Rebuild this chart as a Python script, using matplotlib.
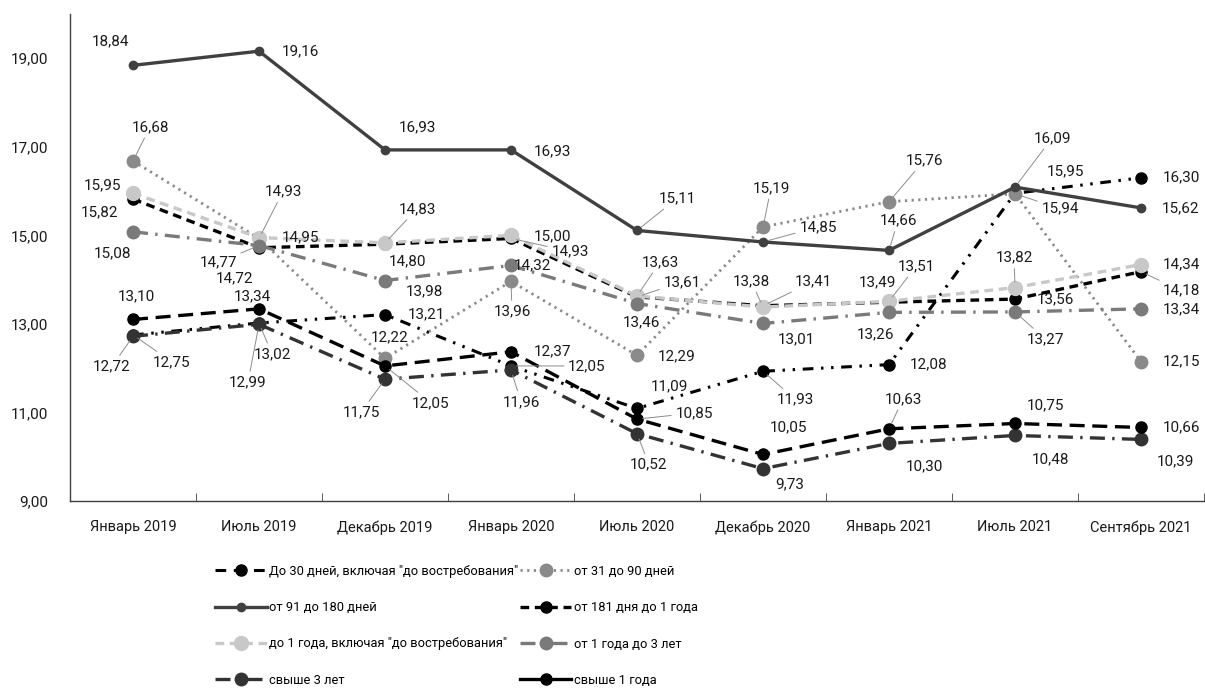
import matplotlib.pyplot as plt
from matplotlib.lines import Line2D

plt.rcParams['font.family'] = ['Roboto', 'DejaVu Sans']

months = ['Январь 2019', 'Июль 2019', 'Декабрь 2019', 'Январь 2020', 'Июль 2020',
          'Декабрь 2020', 'Январь 2021', 'Июль 2021', 'Сентябрь 2021']

names = ['До 30 дней, включая "до востребования"', 'от 31 до 90 дней',
         'от 91 до 180 дней', 'от 181 дня до 1 года',
         'до 1 года, включая "до востребования"', 'от 1 года до 3 лет',
         'свыше 3 лет', 'свыше 1 года']

upto30 = [12.75, 13.02, 13.21, 12.05, 11.09, 11.93, 12.08, 15.95, 16.30]
d31_90 = [16.68, 14.93, 12.22, 13.96, 12.29, 15.19, 15.76, 15.94, 12.15]
d91_180 = [18.84, 19.16, 16.93, 16.93, 15.11, 14.85, 14.66, 16.09, 15.62]
d181_1y = [15.82, 14.72, 14.80, 14.93, 13.61, 13.41, 13.49, 13.56, 14.18]
upto1y = [15.95, 14.95, 14.83, 15.00, 13.63, 13.38, 13.51, 13.82, 14.34]
y1_3 = [15.08, 14.77, 13.98, 14.32, 13.46, 13.01, 13.26, 13.27, 13.34]
over3y = [12.72, 12.99, 11.75, 11.96, 10.52, 9.73, 10.30, 10.48, 10.39]
over1y = [13.10, 13.34, 12.05, 12.37, 10.85, 10.05, 10.63, 10.75, 10.66]

series = [upto30, d31_90, d91_180, d181_1y, upto1y, y1_3, over3y, over1y]

# line style per series: color, linewidth, dash pattern, marker size
styles = [
    dict(color='#000000', lw=2.2, ls=(0, (3.5, 2.5, 0.8, 2.5, 0.8, 2.5)), ms=8),
    dict(color='#8a8a8a', lw=2.0, ls=(0, (0.8, 1.6)), ms=9),
    dict(color='#404040', lw=2.4, ls='-', ms=6),
    dict(color='#000000', lw=2.4, ls=(0, (2.6, 1.7)), ms=8),
    dict(color='#c8c8c8', lw=2.4, ls=(0, (2.6, 1.7)), ms=10),
    dict(color='#7a7a7a', lw=2.4, ls=(0, (4.5, 2.2, 0.7, 2.2)), ms=9),
    dict(color='#333333', lw=2.4, ls=(0, (4.5, 2.2, 0.7, 2.2)), ms=9),
    dict(color='#000000', lw=2.4, ls=(0, (4.5, 2.3)), ms=8),
]
# styles shown in the legend (свыше 1 года is solid there)
legend_ls = [s['ls'] for s in styles]
legend_ls[7] = '-'

# label offsets in pixels (dx, dy); leaders maps series -> points with a leader line
label_pos = [
    [(39, -27), (13, -31), (41, 0), (76, 0), (32, 22), (32, -28), (40, 0), (50, 22), (40, 0)],
    [(17, 34), (24, 47), (5, 21), (1, -30), (40, -1), (8, 39), (35, 41), (45, -15), (40, 0)],
    [(-23, 24), (41, 0), (32, 23), (41, -1), (40, 32), (55, 15), (9, 30), (37, 49), (40, 0)],
    [(-33, -13), (-24, -31), (22, -17), (59, -13), (45, 15), (50, 24), (-12, 20), (40, 0), (40, -19)],
    [(-31, 8), (41, 0), (32, 34), (41, -1), (23, 34), (-12, 26), (27, 35), (-1, 30), (40, 0)],
    [(-21, -21), (-41, -17), (39, -11), (21, 0), (4, -19), (33, -16), (-14, -22), (30, -27), (40, 0)],
    [(-21, -30), (-11, -58), (-24, -33), (10, -32), (12, -31), (27, -16), (35, -23), (35, -24), (34, -22)],
    [(3, 23), (-7, 13), (46, -37), (41, 0), (57, 6), (25, 27), (14, 30), (30, 18), (40, 0)],
]
leaders = {
    0: [0, 1, 3, 5],
    1: [0, 1, 3, 5, 6, 7],
    2: [4, 5, 6, 7],
    3: [3, 4, 5, 8],
    4: [2, 4, 5, 6, 7],
    5: [1, 7],
    6: [0, 1, 2, 3, 4],
    7: [2, 4, 6],
}

fig = plt.figure(figsize=(12.05, 6.89), dpi=100)
ax = fig.add_axes([0.0581, 0.2729, 0.9411, 0.7068])

x = list(range(len(months)))
for k, vals in enumerate(series):
    st = styles[k]
    ax.plot(x, vals, color=st['color'], lw=st['lw'], linestyle=st['ls'],
            marker='o', ms=st['ms'], mfc=st['color'], mec=st['color'],
            zorder=2 + k * 0.1)

for k, vals in enumerate(series):
    for i, v in enumerate(vals):
        dx, dy = label_pos[k][i]
        txt = '{:.2f}'.format(v).replace('.', ',')
        kw = {}
        if i in leaders[k]:
            kw['arrowprops'] = dict(arrowstyle='-', color='#8c8c8c', lw=0.7,
                                    shrinkA=1, shrinkB=4)
        ax.annotate(txt, xy=(i, v), xytext=(dx, dy), textcoords='offset pixels',
                    ha='center', va='center', fontsize=11, color='#1a1a1a',
                    zorder=10, **kw)

ax.set_xlim(-0.5, len(months) - 0.5)
ax.set_ylim(9, 20)
yt = [9, 11, 13, 15, 17, 19]
ax.set_yticks(yt)
ax.set_yticklabels(['{:.2f}'.format(t).replace('.', ',') for t in yt])
ax.set_xticks(x)
ax.set_xticklabels(months)
ax.set_xticks([i + 0.5 for i in x], minor=True)
ax.tick_params(axis='x', which='major', length=0, pad=14, labelsize=10.5, colors='#1a1a1a')
ax.tick_params(axis='x', which='minor', direction='in', length=6, color='#404040')
ax.tick_params(axis='y', length=0, pad=16, labelsize=11, colors='#1a1a1a')

for side in ['top', 'right']:
    ax.spines[side].set_visible(False)
for side in ['left', 'bottom']:
    ax.spines[side].set_color('#404040')
    ax.spines[side].set_linewidth(1.0)

handles = []
for k in range(len(series)):
    st = styles[k]
    handles.append(Line2D([], [], color=st['color'], lw=st['lw'], linestyle=legend_ls[k],
                          marker='o', ms=st['ms'], mfc=st['color'], mec=st['color']))
# legend reads row by row, matplotlib fills columns first
order = [0, 2, 4, 6, 1, 3, 5, 7]
fig.legend([handles[i] for i in order], [names[i] for i in order],
           loc='upper left', bbox_to_anchor=(215 / 1205, 1 - 565 / 689), ncol=2,
           frameon=False, fontsize=9.3, handlelength=4.0, handletextpad=0.2,
           columnspacing=0.1, labelspacing=1.8, borderpad=0, borderaxespad=0)

fig.savefig('out.png', dpi=100)
